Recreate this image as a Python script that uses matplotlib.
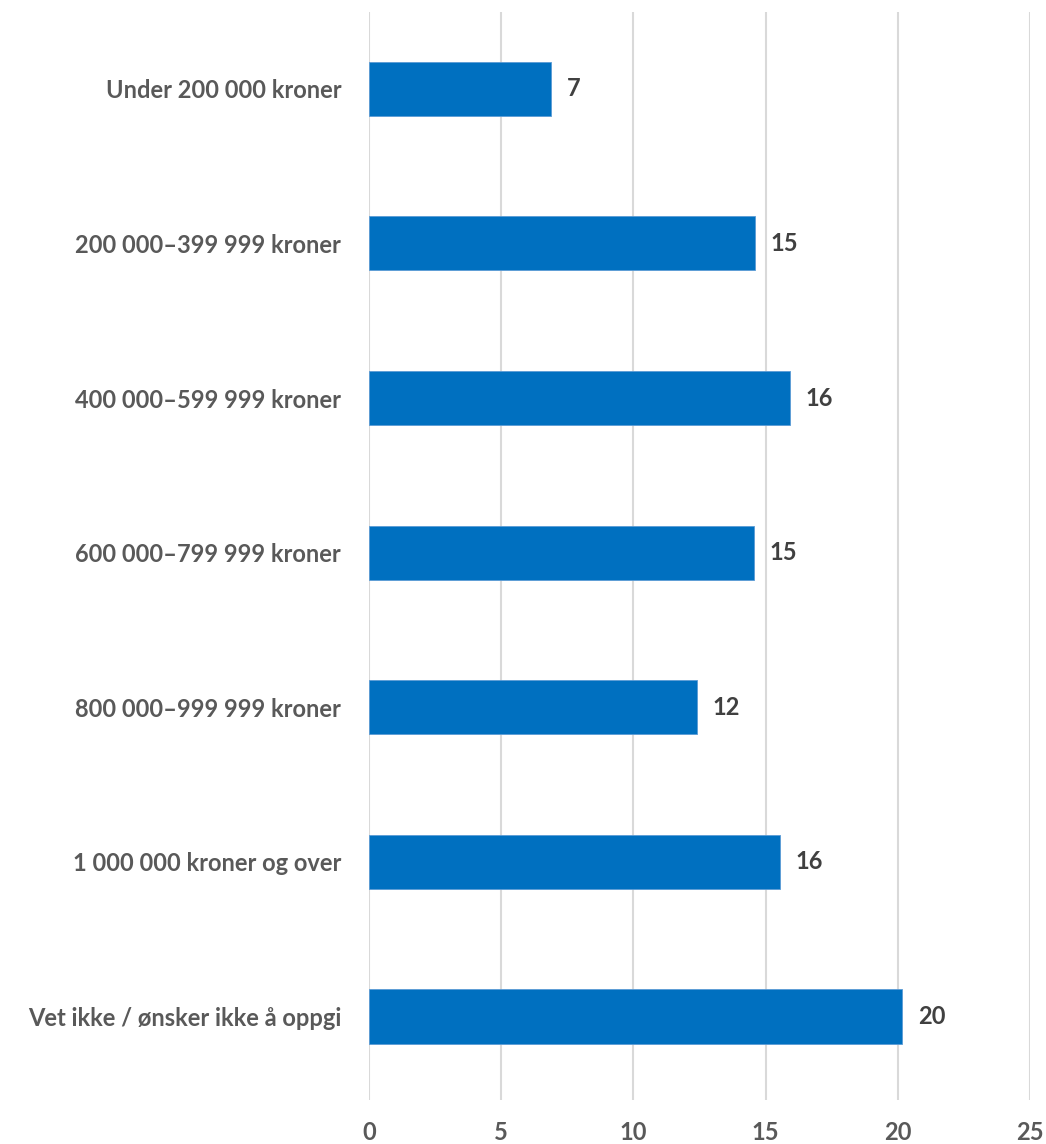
import matplotlib
matplotlib.use("Agg")
import matplotlib.pyplot as plt

categories = [
    "Under 200 000 kroner",
    "200 000–399 999 kroner",
    "400 000–599 999 kroner",
    "600 000–799 999 kroner",
    "800 000–999 999 kroner",
    "1 000 000 kroner og over",
    "Vet ikke / ønsker ikke å oppgi",
]
values = [6.87, 14.59, 15.92, 14.56, 12.40, 15.54, 20.15]
value_labels = ["7", "15", "16", "15", "12", "16", "20"]
xticks = [0, 5, 10, 15, 20, 25]

plt.rcParams['font.family'] = ['Lato', 'DejaVu Sans']

W, H = 1046, 1144
fig = plt.figure(figsize=(W / 100, H / 100), dpi=100)
left, right = 369 / W, 1030 / W
top, bottom = 11.5 / H, 1100 / H
ax = fig.add_axes([left, 1 - bottom, right - left, bottom - top])

y = list(range(len(categories)))
ax.barh(y, values, height=0.35, color="#0070C0", edgecolor="#5B9BD5",
        linewidth=0.6, zorder=3)

for yi, v, lab in zip(y, values, value_labels):
    ax.annotate(lab, xy=(v, yi), xytext=(16, 0), textcoords="offset pixels",
                ha="left", va="center", fontsize=17, fontweight="bold",
                color="#404040")

ax.set_xlim(0, 25)
ax.set_ylim(6.54, -0.5)
ax.set_xticks(xticks)
ax.set_xticklabels([str(t) for t in xticks])
ax.set_yticks(y)
ax.set_yticklabels(categories)

ax.grid(axis="x", color="#D9D9D9", linewidth=1.5, zorder=0)
ax.grid(axis="y", visible=False)
for s in ax.spines.values():
    s.set_visible(False)

ax.tick_params(axis="x", length=0, pad=15, labelsize=17, labelcolor="#595959")
ax.tick_params(axis="y", length=0, pad=20, labelsize=17, labelcolor="#595959")
for t in ax.get_xticklabels() + ax.get_yticklabels():
    t.set_fontweight("bold")

fig.savefig("out.png", dpi=100, facecolor="white")
